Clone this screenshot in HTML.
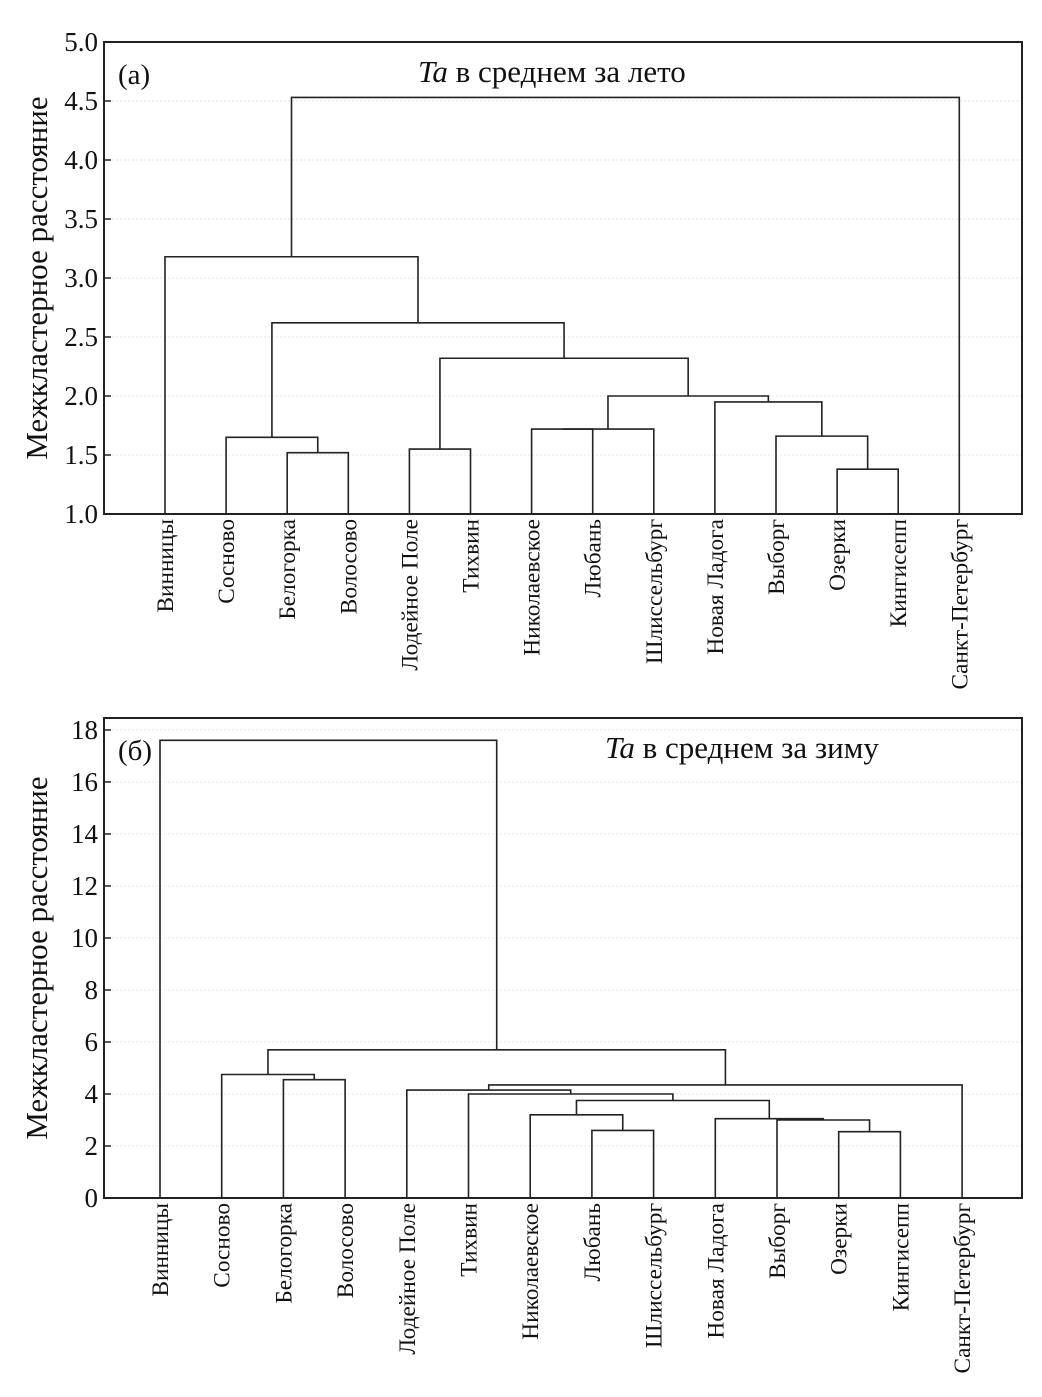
<!DOCTYPE html>
<html><head><meta charset="utf-8"><style>
body{margin:0;background:#fff;}
svg text{font-family:"Liberation Serif","DejaVu Serif",serif;fill:#111;}
</style></head><body>
<svg id="s" width="1042" height="1392" xmlns="http://www.w3.org/2000/svg"></svg>
<script>
const leaves=["Винницы","Сосново","Белогорка","Волосово","Лодейное Поле","Тихвин","Николаевское","Любань","Шлиссельбург","Новая Ладога","Выборг","Озерки","Кингисепп","Санкт-Петербург"];
const summerLeft=[2,1,4,6,17,11,10,9,18,16,15,0,25];
const summerRight=[3,14,5,7,8,12,19,20,21,22,23,24,13];
const summerHeights=[1.52,1.65,1.55,1.72,1.72,1.38,1.66,1.95,2.0,2.32,2.62,3.18,4.53];
const summerTicks=["1.0","1.5","2.0","2.5","3.0","3.5","4.0","4.5","5.0"];
const winterLeft=[7,6,11,10,9,15,5,4,21,2,1,24,0];
const winterRight=[8,14,12,16,17,18,19,20,13,3,23,22,25];
const winterHeights=[2.6,3.2,2.55,3.0,3.05,3.75,4.0,4.15,4.35,4.55,4.75,5.7,17.6];
const winterTicks=["0","2","4","6","8","10","12","14","16","18"];

const NS="http://www.w3.org/2000/svg";
const svg=document.getElementById('s');
function mk(tag,attrs,parent){const e=document.createElementNS(NS,tag);for(const k in attrs)e.setAttribute(k,attrs[k]);(parent||svg).appendChild(e);return e;}

function chart(cfg){
  const g=mk('g',{});
  
  
  const {x0,x1,y0,y1,vmin,vmax}=cfg;
  const ys=v=>y1-(v-vmin)/(vmax-vmin)*(y1-y0);
  const xs=i=>cfg.lx0+i*cfg.lstep;
  cfg.ticks.forEach(t=>{const v=parseFloat(t);
    if(v>vmin&&v<vmax){const l=mk('line',{x1:x0,x2:x1,y1:ys(v),y2:ys(v),stroke:'#e4e4e4','stroke-width':1,'stroke-dasharray':'2,2'},g);
      }
    const tl=mk('line',{x1:x0,x2:x0+7,y1:ys(v),y2:ys(v),stroke:'#222','stroke-width':1.5},g);
    
    const tx=mk('text',{x:x0-6,y:ys(v)+9,'text-anchor':'end','font-size':27},g);tx.textContent=t;
    
  });
  const fr=mk('rect',{x:x0,y:y0,width:x1-x0,height:y1-y0,fill:'none',stroke:'#222','stroke-width':2},g);
  
  const nx=[],nh=[];
  leaves.forEach((n,i)=>{nx[i]=xs(i);nh[i]=vmin;
    const t=mk('text',{x:0,y:0,'text-anchor':'end','font-size':23.3,transform:`translate(${xs(i)+8},${y1+5}) rotate(-90)`},g);
    t.textContent=n;
  });
  cfg.left.forEach((a,k)=>{const b=cfg.right[k],h=cfg.heights[k],id=leaves.length+k;
    const p=mk('path',{d:`M${nx[a]},${ys(nh[a])}V${ys(h)}H${nx[b]}V${ys(nh[b])}`,fill:'none',stroke:'#222','stroke-width':1.6},g);
    
    nx[id]=(nx[a]+nx[b])/2;nh[id]=h;
  });
  const yt=mk('text',{x:0,y:0,'text-anchor':'middle','font-size':31,transform:`translate(${cfg.ytx},${(y0+y1)/2}) rotate(-90)`},g);
  yt.textContent='Межкластерное расстояние';
  const pl=mk('text',{x:x0+14,y:y0+42,'font-size':29},g);pl.textContent=cfg.panel;
  
  const ti=mk('text',{x:cfg.tx,y:y0+40,'font-size':31},g);
  ti.innerHTML='<tspan font-style="italic">Ta</tspan> '+cfg.title;
  
}
chart({name:'summer-dendrogram',x0:104,x1:1022,y0:42,y1:514,vmin:1,vmax:5,lx0:165,lstep:61.1,ticks:summerTicks,left:summerLeft,right:summerRight,heights:summerHeights,ytx:47,panel:'(а)',title:'в среднем за лето',tx:418});
chart({name:'winter-dendrogram',x0:104,x1:1022,y0:718,y1:1198,vmin:0,vmax:18.46,lx0:160,lstep:61.7,ticks:winterTicks,left:winterLeft,right:winterRight,heights:winterHeights,ytx:47,panel:'(б)',title:'в среднем за зиму',tx:605});
</script>
</body></html>
